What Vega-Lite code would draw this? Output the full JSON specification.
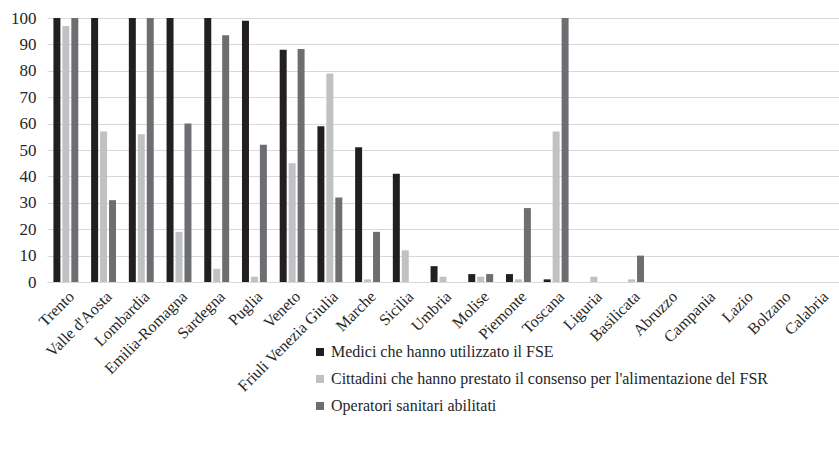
{
  "$schema": "https://vega.github.io/schema/vega-lite/v6.json",
  "width": 792,
  "height": 264,
  "autosize": {"type": "none"},
  "padding": {"left": 47, "top": 18, "right": 0, "bottom": 168},
  "background": "white",
  "config": {
    "font": "Liberation Serif",
    "view": {"stroke": null}
  },
  "data": {
    "values": [
      {"regione": "Trento", "serie": "Medici che hanno utilizzato il FSE", "valore": 100},
      {"regione": "Trento", "serie": "Cittadini che hanno prestato il consenso per l'alimentazione del FSR", "valore": 97},
      {"regione": "Trento", "serie": "Operatori sanitari abilitati", "valore": 100},
      {"regione": "Valle d'Aosta", "serie": "Medici che hanno utilizzato il FSE", "valore": 100},
      {"regione": "Valle d'Aosta", "serie": "Cittadini che hanno prestato il consenso per l'alimentazione del FSR", "valore": 57},
      {"regione": "Valle d'Aosta", "serie": "Operatori sanitari abilitati", "valore": 31},
      {"regione": "Lombardia", "serie": "Medici che hanno utilizzato il FSE", "valore": 100},
      {"regione": "Lombardia", "serie": "Cittadini che hanno prestato il consenso per l'alimentazione del FSR", "valore": 56},
      {"regione": "Lombardia", "serie": "Operatori sanitari abilitati", "valore": 100},
      {"regione": "Emilia-Romagna", "serie": "Medici che hanno utilizzato il FSE", "valore": 100},
      {"regione": "Emilia-Romagna", "serie": "Cittadini che hanno prestato il consenso per l'alimentazione del FSR", "valore": 19},
      {"regione": "Emilia-Romagna", "serie": "Operatori sanitari abilitati", "valore": 60},
      {"regione": "Sardegna", "serie": "Medici che hanno utilizzato il FSE", "valore": 100},
      {"regione": "Sardegna", "serie": "Cittadini che hanno prestato il consenso per l'alimentazione del FSR", "valore": 5},
      {"regione": "Sardegna", "serie": "Operatori sanitari abilitati", "valore": 93.5},
      {"regione": "Puglia", "serie": "Medici che hanno utilizzato il FSE", "valore": 99},
      {"regione": "Puglia", "serie": "Cittadini che hanno prestato il consenso per l'alimentazione del FSR", "valore": 2},
      {"regione": "Puglia", "serie": "Operatori sanitari abilitati", "valore": 52},
      {"regione": "Veneto", "serie": "Medici che hanno utilizzato il FSE", "valore": 88},
      {"regione": "Veneto", "serie": "Cittadini che hanno prestato il consenso per l'alimentazione del FSR", "valore": 45},
      {"regione": "Veneto", "serie": "Operatori sanitari abilitati", "valore": 88.3},
      {"regione": "Friuli Venezia Giulia", "serie": "Medici che hanno utilizzato il FSE", "valore": 59},
      {"regione": "Friuli Venezia Giulia", "serie": "Cittadini che hanno prestato il consenso per l'alimentazione del FSR", "valore": 79},
      {"regione": "Friuli Venezia Giulia", "serie": "Operatori sanitari abilitati", "valore": 32},
      {"regione": "Marche", "serie": "Medici che hanno utilizzato il FSE", "valore": 51},
      {"regione": "Marche", "serie": "Cittadini che hanno prestato il consenso per l'alimentazione del FSR", "valore": 1},
      {"regione": "Marche", "serie": "Operatori sanitari abilitati", "valore": 19},
      {"regione": "Sicilia", "serie": "Medici che hanno utilizzato il FSE", "valore": 41},
      {"regione": "Sicilia", "serie": "Cittadini che hanno prestato il consenso per l'alimentazione del FSR", "valore": 12},
      {"regione": "Sicilia", "serie": "Operatori sanitari abilitati", "valore": 0},
      {"regione": "Umbria", "serie": "Medici che hanno utilizzato il FSE", "valore": 6},
      {"regione": "Umbria", "serie": "Cittadini che hanno prestato il consenso per l'alimentazione del FSR", "valore": 2},
      {"regione": "Umbria", "serie": "Operatori sanitari abilitati", "valore": 0},
      {"regione": "Molise", "serie": "Medici che hanno utilizzato il FSE", "valore": 3},
      {"regione": "Molise", "serie": "Cittadini che hanno prestato il consenso per l'alimentazione del FSR", "valore": 2},
      {"regione": "Molise", "serie": "Operatori sanitari abilitati", "valore": 3},
      {"regione": "Piemonte", "serie": "Medici che hanno utilizzato il FSE", "valore": 3},
      {"regione": "Piemonte", "serie": "Cittadini che hanno prestato il consenso per l'alimentazione del FSR", "valore": 1},
      {"regione": "Piemonte", "serie": "Operatori sanitari abilitati", "valore": 28},
      {"regione": "Toscana", "serie": "Medici che hanno utilizzato il FSE", "valore": 1},
      {"regione": "Toscana", "serie": "Cittadini che hanno prestato il consenso per l'alimentazione del FSR", "valore": 57},
      {"regione": "Toscana", "serie": "Operatori sanitari abilitati", "valore": 100},
      {"regione": "Liguria", "serie": "Medici che hanno utilizzato il FSE", "valore": 0},
      {"regione": "Liguria", "serie": "Cittadini che hanno prestato il consenso per l'alimentazione del FSR", "valore": 2},
      {"regione": "Liguria", "serie": "Operatori sanitari abilitati", "valore": 0},
      {"regione": "Basilicata", "serie": "Medici che hanno utilizzato il FSE", "valore": 0},
      {"regione": "Basilicata", "serie": "Cittadini che hanno prestato il consenso per l'alimentazione del FSR", "valore": 1},
      {"regione": "Basilicata", "serie": "Operatori sanitari abilitati", "valore": 10},
      {"regione": "Abruzzo", "serie": "Medici che hanno utilizzato il FSE", "valore": 0},
      {"regione": "Abruzzo", "serie": "Cittadini che hanno prestato il consenso per l'alimentazione del FSR", "valore": 0},
      {"regione": "Abruzzo", "serie": "Operatori sanitari abilitati", "valore": 0},
      {"regione": "Campania", "serie": "Medici che hanno utilizzato il FSE", "valore": 0},
      {"regione": "Campania", "serie": "Cittadini che hanno prestato il consenso per l'alimentazione del FSR", "valore": 0},
      {"regione": "Campania", "serie": "Operatori sanitari abilitati", "valore": 0},
      {"regione": "Lazio", "serie": "Medici che hanno utilizzato il FSE", "valore": 0},
      {"regione": "Lazio", "serie": "Cittadini che hanno prestato il consenso per l'alimentazione del FSR", "valore": 0},
      {"regione": "Lazio", "serie": "Operatori sanitari abilitati", "valore": 0},
      {"regione": "Bolzano", "serie": "Medici che hanno utilizzato il FSE", "valore": 0},
      {"regione": "Bolzano", "serie": "Cittadini che hanno prestato il consenso per l'alimentazione del FSR", "valore": 0},
      {"regione": "Bolzano", "serie": "Operatori sanitari abilitati", "valore": 0},
      {"regione": "Calabria", "serie": "Medici che hanno utilizzato il FSE", "valore": 0},
      {"regione": "Calabria", "serie": "Cittadini che hanno prestato il consenso per l'alimentazione del FSR", "valore": 0},
      {"regione": "Calabria", "serie": "Operatori sanitari abilitati", "valore": 0}
    ]
  },
  "mark": {"type": "bar"},
  "encoding": {
    "x": {
      "field": "regione",
      "type": "nominal",
      "sort": null,
      "scale": {"paddingInner": 0.34, "paddingOuter": 0.17},
      "axis": {
        "title": null,
        "labelAngle": -45,
        "labelAlign": "right",
        "labelBaseline": "top",
        "labelFont": "Liberation Serif",
        "labelFontSize": 16,
        "labelColor": "#262626",
        "labelPadding": 6,
        "ticks": false,
        "domainColor": "#d9d9d9",
        "domainWidth": 1
      }
    },
    "xOffset": {
      "field": "serie",
      "type": "nominal",
      "sort": [
        "Medici che hanno utilizzato il FSE",
        "Cittadini che hanno prestato il consenso per l'alimentazione del FSR",
        "Operatori sanitari abilitati"
      ],
      "scale": {"paddingInner": 0.22, "paddingOuter": 0}
    },
    "y": {
      "field": "valore",
      "type": "quantitative",
      "scale": {"domain": [0, 100], "nice": false},
      "axis": {
        "title": null,
        "values": [0, 10, 20, 30, 40, 50, 60, 70, 80, 90, 100],
        "domain": false,
        "ticks": false,
        "grid": true,
        "gridColor": "#d9d9d9",
        "gridWidth": 1,
        "labelFont": "Liberation Serif",
        "labelFontSize": 17,
        "labelColor": "#262626",
        "labelPadding": 11
      }
    },
    "color": {
      "field": "serie",
      "type": "nominal",
      "scale": {
        "domain": [
          "Medici che hanno utilizzato il FSE",
          "Cittadini che hanno prestato il consenso per l'alimentazione del FSR",
          "Operatori sanitari abilitati"
        ],
        "range": ["#231f20", "#c0c1c3", "#6d6e71"]
      },
      "legend": {
        "title": null,
        "orient": "none",
        "legendX": 265,
        "legendY": 326,
        "direction": "vertical",
        "symbolType": "square",
        "symbolSize": 64,
        "symbolStrokeWidth": 0,
        "labelFont": "Liberation Serif",
        "labelFontSize": 16,
        "labelColor": "#262626",
        "labelOffset": 3,
        "labelLimit": 600,
        "rowPadding": 11
      }
    }
  }
}
